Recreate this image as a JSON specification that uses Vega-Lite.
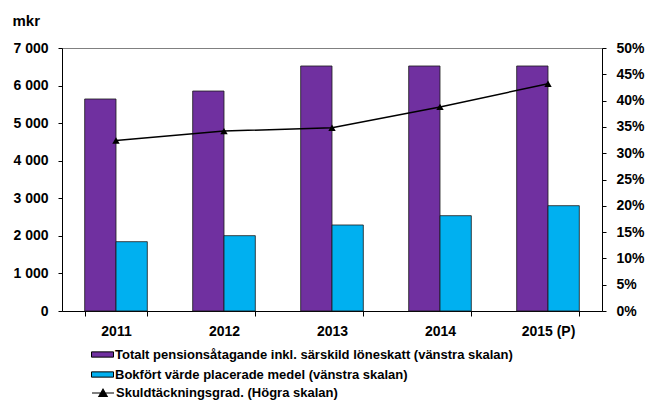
{
  "$schema": "https://vega.github.io/schema/vega-lite/v6.json",
  "width": 540,
  "height": 263,
  "autosize": {"type": "none"},
  "padding": {"left": 62, "top": 48, "right": 47, "bottom": 89},
  "background": "white",
  "config": {
    "font": "Liberation Sans",
    "view": {"stroke": "#808080", "strokeWidth": 1},
    "axis": {
      "labelFont": "Liberation Sans",
      "labelFontWeight": "bold",
      "labelFontSize": 14,
      "labelColor": "black",
      "domainColor": "black",
      "tickColor": "black",
      "grid": false,
      "tickSize": 4,
      "labelOverlap": false
    },
    "legend": {
      "labelFont": "Liberation Sans",
      "labelFontWeight": "bold",
      "labelFontSize": 13,
      "labelColor": "black",
      "labelLimit": 600,
      "padding": 0,
      "symbolFillColor": "#000000"
    }
  },
  "datasets": {
    "bars": [
      {"year": "2011", "serie": "Totalt pensionsåtagande inkl. särskild löneskatt (vänstra skalan)", "mkr": 5643},
      {"year": "2011", "serie": "Bokfört värde placerade medel (vänstra skalan)", "mkr": 1845},
      {"year": "2012", "serie": "Totalt pensionsåtagande inkl. särskild löneskatt (vänstra skalan)", "mkr": 5855},
      {"year": "2012", "serie": "Bokfört värde placerade medel (vänstra skalan)", "mkr": 2005},
      {"year": "2013", "serie": "Totalt pensionsåtagande inkl. särskild löneskatt (vänstra skalan)", "mkr": 6521},
      {"year": "2013", "serie": "Bokfört värde placerade medel (vänstra skalan)", "mkr": 2289},
      {"year": "2014", "serie": "Totalt pensionsåtagande inkl. särskild löneskatt (vänstra skalan)", "mkr": 6521},
      {"year": "2014", "serie": "Bokfört värde placerade medel (vänstra skalan)", "mkr": 2537},
      {"year": "2015 (P)", "serie": "Totalt pensionsåtagande inkl. särskild löneskatt (vänstra skalan)", "mkr": 6521},
      {"year": "2015 (P)", "serie": "Bokfört värde placerade medel (vänstra skalan)", "mkr": 2803}
    ],
    "line": [
      {"year": "2011", "serie": "Skuldtäckningsgrad. (Högra skalan)", "grad": 0.324},
      {"year": "2012", "serie": "Skuldtäckningsgrad. (Högra skalan)", "grad": 0.342},
      {"year": "2013", "serie": "Skuldtäckningsgrad. (Högra skalan)", "grad": 0.3485},
      {"year": "2014", "serie": "Skuldtäckningsgrad. (Högra skalan)", "grad": 0.388},
      {"year": "2015 (P)", "serie": "Skuldtäckningsgrad. (Högra skalan)", "grad": 0.432}
    ]
  },
  "encoding": {
    "x": {
      "field": "year",
      "type": "nominal",
      "sort": null,
      "scale": {"paddingInner": 0.42, "paddingOuter": 0.21},
      "axis": {"title": null, "labelAngle": 0, "tickBand": "extent", "labelPadding": 8, "tickSize": 5}
    }
  },
  "layer": [
    {
      "data": {"name": "bars"},
      "mark": {"type": "bar", "stroke": "#1a1a1a", "strokeWidth": 0.8},
      "encoding": {
        "xOffset": {
          "field": "serie",
          "type": "nominal",
          "scale": {"domain": ["Totalt pensionsåtagande inkl. särskild löneskatt (vänstra skalan)", "Bokfört värde placerade medel (vänstra skalan)"], "paddingInner": 0, "paddingOuter": 0}
        },
        "y": {
          "field": "mkr",
          "type": "quantitative",
          "scale": {"domain": [0, 7000], "nice": false},
          "axis": {
            "orient": "left",
            "values": [0, 1000, 2000, 3000, 4000, 5000, 6000, 7000],
            "labelExpr": "replace(format(datum.value, ','), ',', ' ')",
            "labelPadding": 10,
            "title": "mkr",
            "titleAngle": 0,
            "titleX": -50,
            "titleY": -28,
            "titleAlign": "left",
            "titleBaseline": "middle",
            "titleFont": "Liberation Sans",
            "titleFontSize": 15,
            "titleFontWeight": "bold",
            "titleColor": "black"
          }
        },
        "color": {
          "field": "serie",
          "type": "nominal",
          "scale": {
            "domain": ["Totalt pensionsåtagande inkl. särskild löneskatt (vänstra skalan)", "Bokfört värde placerade medel (vänstra skalan)"],
            "range": ["#7030A0", "#00B0F0"]
          },
          "legend": {
            "orient": "none",
            "legendX": 29,
            "legendY": 295,
            "direction": "vertical",
            "title": null,
            "symbolType": "M-1,-0.24H1V0.24H-1Z",
            "symbolSize": 484,
            "symbolStrokeColor": "#000000",
            "symbolStrokeWidth": 1,
            "rowPadding": 1,
            "labelOffset": 1
          }
        }
      }
    },
    {
      "data": {"name": "line"},
      "encoding": {
        "y": {
          "field": "grad",
          "type": "quantitative",
          "scale": {"domain": [0, 0.5], "nice": false},
          "axis": {
            "orient": "right",
            "title": null,
            "values": [0, 0.05, 0.1, 0.15, 0.2, 0.25, 0.3, 0.35, 0.4, 0.45, 0.5],
            "tickCount": 11,
            "format": ".0%",
            "labelPadding": 10
          }
        }
      },
      "layer": [
        {
          "mark": {"type": "line", "strokeWidth": 1.5, "color": "#000000"},
          "encoding": {
            "opacity": {
              "field": "serie",
              "type": "ordinal",
              "scale": {"range": [1]},
              "legend": {
                "orient": "none",
                "legendX": 29,
                "legendY": 333,
                "title": null,
                "symbolType": "M-1,0H1M-0.38,0.32L0,-0.34L0.38,0.32Z",
                "symbolSize": 484,
                "symbolFillColor": "#000000",
                "symbolStrokeColor": "#000000",
                "symbolStrokeWidth": 1.2,
                "labelOffset": 1
              }
            }
          }
        },
        {
          "mark": {"type": "point", "shape": "triangle-up", "filled": true, "size": 55, "color": "#000000", "opacity": 1}
        }
      ]
    }
  ],
  "resolve": {"scale": {"y": "independent"}}
}
